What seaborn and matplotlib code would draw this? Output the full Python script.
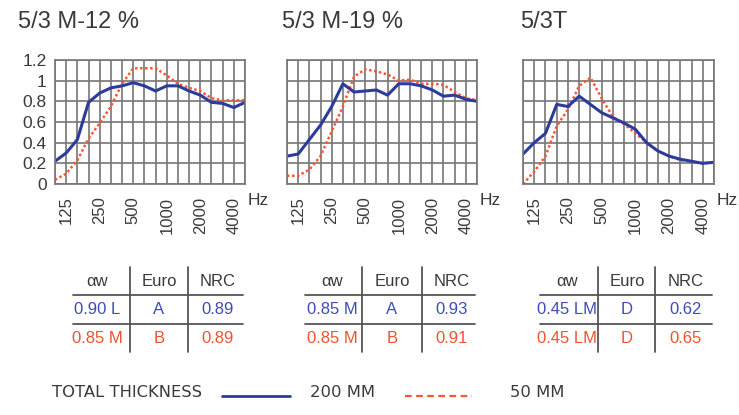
import matplotlib
matplotlib.use("Agg")
import numpy as np
import pandas as pd
import matplotlib.pyplot as plt
import seaborn as sns
from matplotlib.lines import Line2D

# third-octave bands
freqs = [100, 125, 160, 200, 250, 315, 400, 500, 630, 800,
         1000, 1250, 1600, 2000, 2500, 3150, 4000, 5000]
tick_freqs = [125, 250, 500, 1000, 2000, 4000]
y_ticks = [0, 0.2, 0.4, 0.6, 0.8, 1.0, 1.2]
y_labels = ["0", "0.2", "0.4", "0.6", "0.8", "1", "1.2"]

titles = ["5/3 M-12 %", "5/3 M-19 %", "5/3T"]

# absorption curves, 200 mm and 50 mm total thickness
m12_200 = [0.22, 0.30, 0.43, 0.79, 0.88, 0.93, 0.95, 0.98, 0.95, 0.90,
           0.95, 0.95, 0.90, 0.86, 0.79, 0.78, 0.74, 0.79]
m12_50 = [0.04, 0.10, 0.23, 0.44, 0.59, 0.75, 0.97, 1.12, 1.12, 1.12,
          1.05, 0.97, 0.93, 0.90, 0.83, 0.81, 0.81, 0.81]
m19_200 = [0.27, 0.29, 0.43, 0.57, 0.75, 0.97, 0.89, 0.90, 0.91, 0.86,
           0.97, 0.97, 0.95, 0.91, 0.85, 0.86, 0.82, 0.80]
m19_50 = [0.08, 0.08, 0.14, 0.27, 0.51, 0.75, 1.04, 1.11, 1.09, 1.06,
          1.00, 1.01, 0.97, 0.97, 0.96, 0.89, 0.83, 0.81]
t_200 = [0.29, 0.40, 0.49, 0.77, 0.75, 0.85, 0.77, 0.69, 0.64, 0.59,
         0.53, 0.40, 0.32, 0.27, 0.24, 0.22, 0.20, 0.21]
t_50 = [0.00, 0.12, 0.27, 0.56, 0.72, 0.95, 1.03, 0.83, 0.65, 0.58,
        0.49, 0.40, 0.32, 0.27, 0.23, 0.22, 0.20, 0.21]

curves_200 = [m12_200, m19_200, t_200]
curves_50 = [m12_50, m19_50, t_50]

# table values
aw_200 = ["0.90 L", "0.85 M", "0.45 LM"]
euro_200 = ["A", "A", "D"]
nrc_200 = ["0.89", "0.93", "0.62"]
aw_50 = ["0.85 M", "0.85 M", "0.45 LM"]
euro_50 = ["B", "B", "D"]
nrc_50 = ["0.89", "0.91", "0.65"]

BLUE = "#2c3c9c"
RED = "#ff5533"
BLUE_TXT = "#3d4db5"
RED_TXT = "#f0522f"
GRID = "#767676"
DARK = "#3a3a3a"

sns.set_style("white")
plt.rcParams["font.family"] = ["Liberation Sans", "DejaVu Sans"]

W, H = 739, 415
fig = plt.figure(figsize=(W / 100, H / 100), dpi=100)


def fx(px):
    return px / W


def fy(py):
    return 1 - py / H


# axes placement in pixels: left, right
ax_x = [(55, 245), (287, 477), (523, 714)]
title_x = [18, 282, 520]

for k in range(3):
    x0, x1 = ax_x[k]
    ax = fig.add_axes([fx(x0), fy(184), fx(x1 - x0), 124 / H])
    pos = np.arange(len(freqs))
    df = pd.DataFrame({"pos": pos, "a200": curves_200[k], "a50": curves_50[k]})
    sns.lineplot(data=df, x="pos", y="a50", ax=ax, color=RED,
                 linestyle=(0, (1, 1)), linewidth=1.8)
    sns.lineplot(data=df, x="pos", y="a200", ax=ax, color=BLUE, linewidth=2.2)

    ax.set_xlim(0, len(freqs) - 1)
    ax.set_ylim(0, 1.2)
    ax.set_xticks(pos)
    ax.set_xticklabels([str(f) if f in tick_freqs else "" for f in freqs],
                       rotation=90, fontsize=12, color=DARK)
    ax.set_yticks(y_ticks)
    if k == 0:
        ax.set_yticklabels(y_labels, fontsize=12.5, color=DARK)
    else:
        ax.set_yticklabels([])
    ax.tick_params(length=0, pad=9)
    ax.tick_params(axis="y", pad=6)
    ax.grid(True, color=GRID, linewidth=1.2)
    ax.set_axisbelow(True)
    for s in ax.spines.values():
        s.set_color(GRID)
        s.set_linewidth(1.2)
    ax.set_xlabel("")
    ax.set_ylabel("")
    ax.text(1.015, -0.13, "Hz", transform=ax.transAxes, fontsize=12.5,
            color=DARK, ha="left", va="center")

    fig.text(fx(title_x[k]), fy(22), titles[k], fontsize=17, color=DARK,
             ha="left", va="center")

# tables under each chart
tables = [
    dict(h=(73, 243), v=(130, 188), c=(97, 159, 218)),
    dict(h=(305, 475), v=(362, 422), c=(332, 392, 452)),
    dict(h=(540, 712), v=(598, 655), c=(567, 627, 686)),
]
for k, t in enumerate(tables):
    for yy in (295, 324):
        fig.add_artist(Line2D([fx(t["h"][0]), fx(t["h"][1])], [fy(yy), fy(yy)],
                              transform=fig.transFigure, color="#555555", lw=1.3))
    for xx in t["v"]:
        fig.add_artist(Line2D([fx(xx), fx(xx)], [fy(267), fy(352)],
                              transform=fig.transFigure, color="#555555", lw=1.3))
    rows = [(["αw", "Euro", "NRC"], DARK, 282),
            ([aw_200[k], euro_200[k], nrc_200[k]], BLUE_TXT, 310),
            ([aw_50[k], euro_50[k], nrc_50[k]], RED_TXT, 338)]
    for vals, col, yy in rows:
        for cx, val in zip(t["c"], vals):
            fig.text(fx(cx), fy(yy), val, fontsize=12, color=col,
                     ha="center", va="center")

# legend at the bottom
fig.text(fx(52), fy(392), "TOTAL THICKNESS", fontsize=11.8, color=DARK,
         family="DejaVu Sans", ha="left", va="center")
fig.add_artist(Line2D([fx(222), fx(290)], [fy(396), fy(396)],
                      transform=fig.transFigure, color=BLUE, lw=2))
fig.text(fx(310), fy(392), "200 MM", fontsize=11.8, color=DARK,
         family="DejaVu Sans", ha="left", va="center")
fig.add_artist(Line2D([fx(405), fx(472)], [fy(396), fy(396)],
                      transform=fig.transFigure, color=RED, lw=1.6,
                      linestyle=(0, (3, 2))))
fig.text(fx(510), fy(392), "50 MM", fontsize=11.8, color=DARK,
         family="DejaVu Sans", ha="left", va="center")

fig.savefig("out.png", dpi=100, facecolor="white")
